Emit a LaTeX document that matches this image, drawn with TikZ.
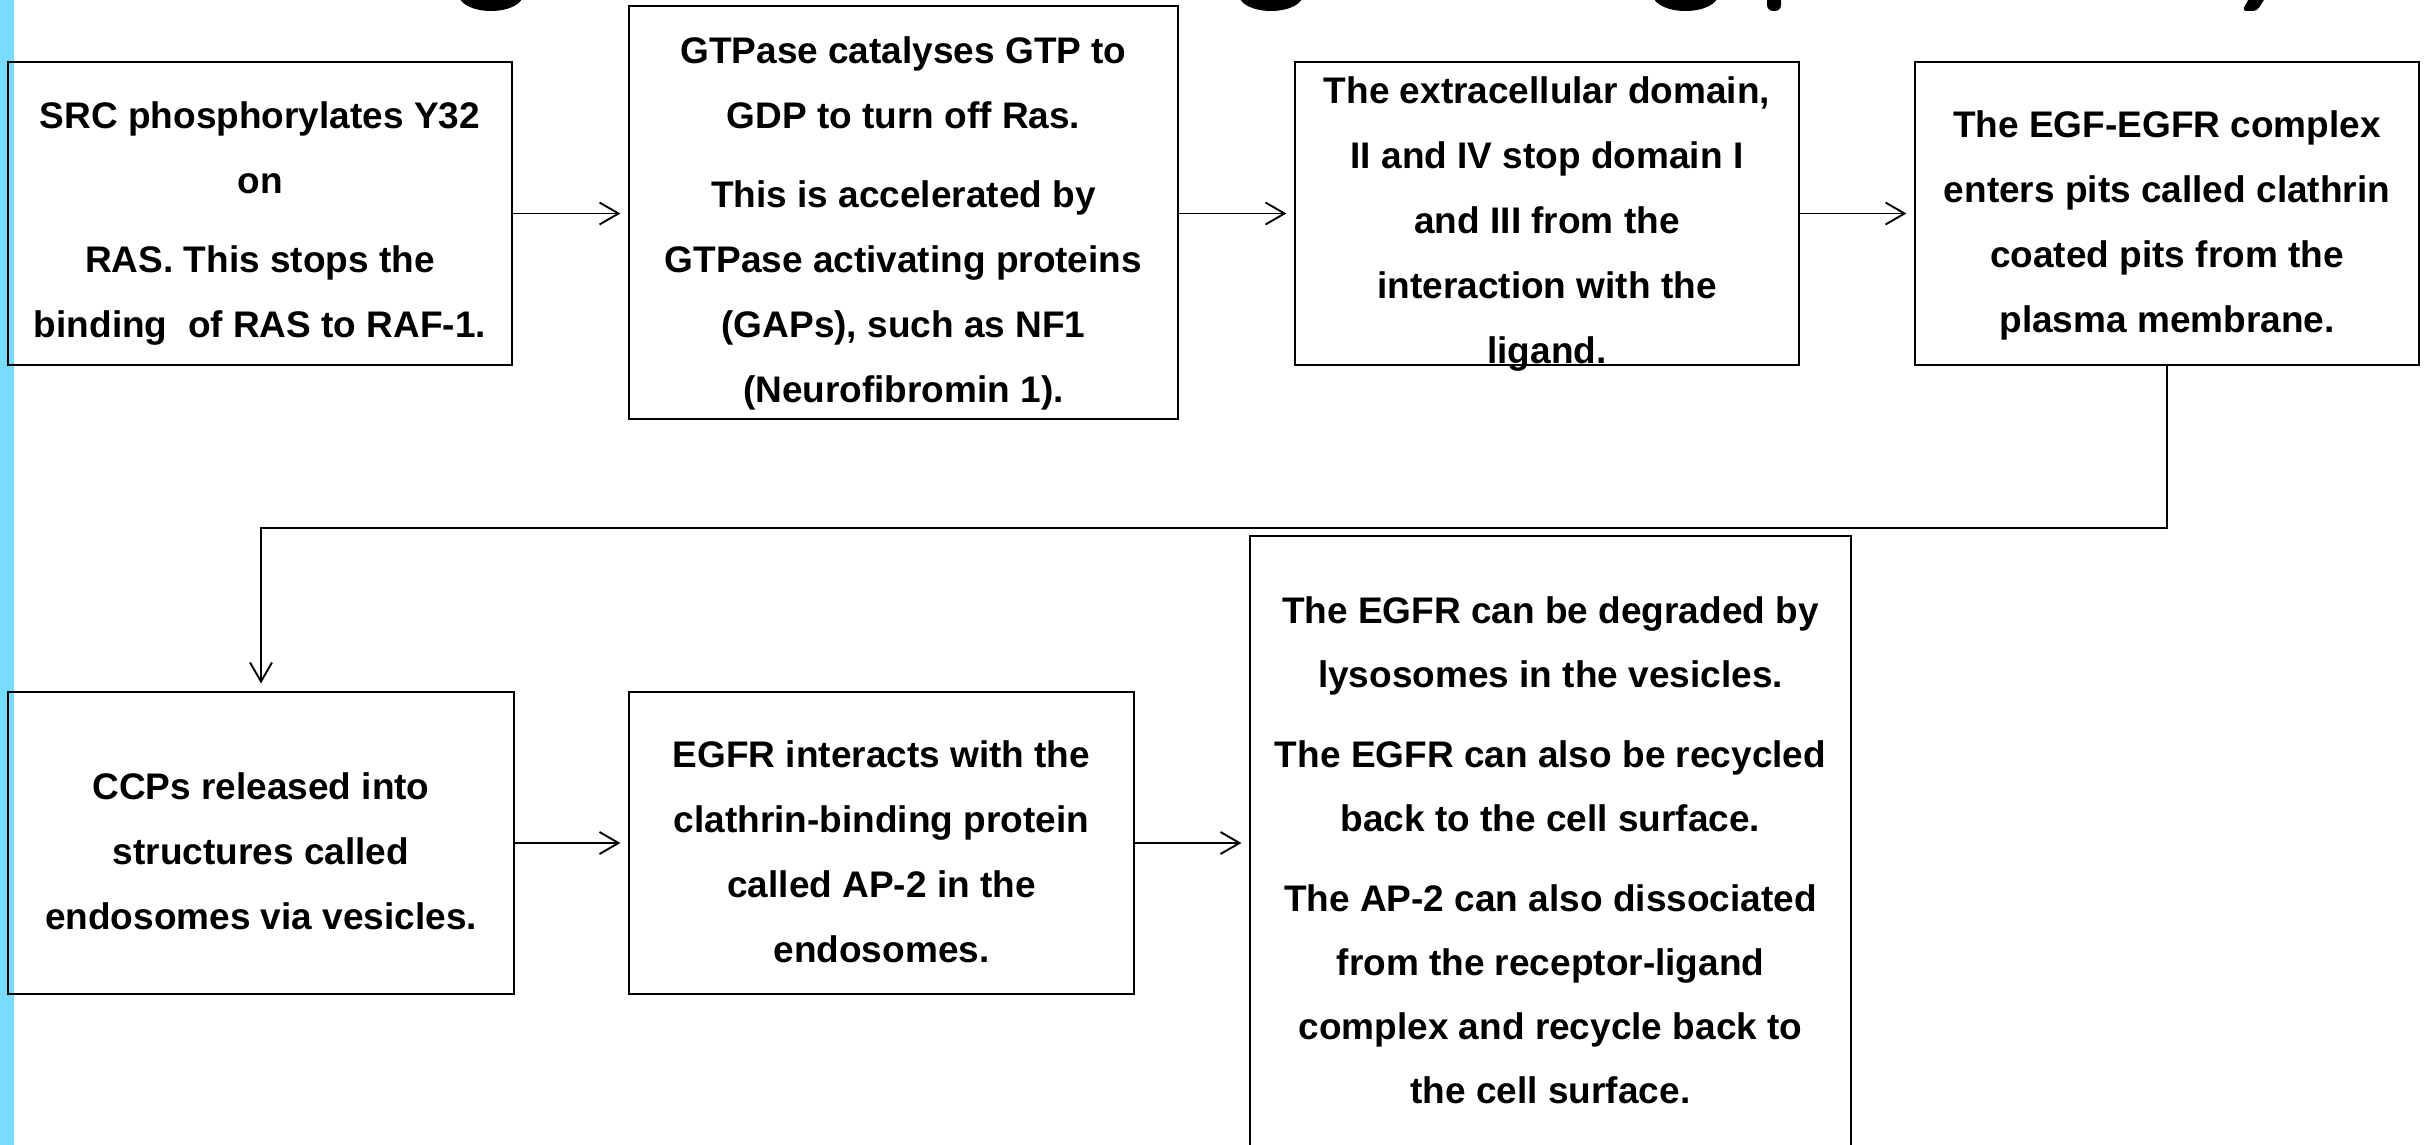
\documentclass[tikz,border=0pt]{standalone}
\usepackage{fontspec}
\setmainfont{Liberation Sans}
\usetikzlibrary{arrows.meta}
\definecolor{stripblue}{RGB}{120,220,255}
\begin{document}
\begin{tikzpicture}[x=1pt,y=-1pt,
  box/.style={draw=black,line width=2.2pt,rectangle,inner sep=0pt},
  txt/.style={anchor=north,inner sep=0pt,align=center,
    font=\fontsize{37}{65}\selectfont\bfseries},
  txtb/.style={txt,font=\fontsize{37}{64}\selectfont\bfseries},
  conn/.style={line width=1.9pt,-{Straight Barb[length=19pt,width=22pt,line width=1.9pt]},shorten >=7.5pt}]
\useasboundingbox (0,0) rectangle (2428,1145);
\clip (0,0) rectangle (2428,1145);
\fill[white] (0,0) rectangle (2428,1145);
\fill[stripblue] (0,0) rectangle (14,1145);
% fragments of the cut-off title
\fill (491,-5) ellipse [x radius=32, y radius=16];
\fill (1271,-5) ellipse [x radius=32, y radius=16];
\fill (1685.5,-5) ellipse [x radius=32.5, y radius=16];
\fill[rounded corners=6pt] (1767,-10) rectangle (1781,11);
\fill[rounded corners=4pt] (2251,-5) -- (2267,-5) -- (2257,11) -- (2242,11) -- cycle;
% boxes
\node[box,minimum width=504pt,minimum height=303pt] (b1) at (260,213.5) {};
\node[box,minimum width=549pt,minimum height=413pt] (b2) at (903.5,212.5) {};
\node[box,minimum width=504pt,minimum height=303pt] (b3) at (1547,213.5) {};
\node[box,minimum width=504pt,minimum height=303pt] (b4) at (2167,213.5) {};
\node[box,minimum width=506pt,minimum height=302pt] (b5) at (261,843) {};
\node[box,minimum width=505pt,minimum height=302pt] (b6) at (881.5,843) {};
\node[box,minimum width=601pt,minimum height=629pt] (b7) at (1550.5,850.5) {};
% texts (first baseline minus 30)
\node[txt] (t1) at (260,98) {\rule{0pt}{30pt}SRC phosphorylates Y32\\ on\\[14pt] RAS. This stops the\\ binding\ \ of RAS to RAF-1.};
\node[txt] (t2) at (903.5,33) {\rule{0pt}{30pt}GTPase catalyses GTP to\\ GDP to turn off Ras.\\[14pt] This is accelerated by\\ GTPase activating proteins\\ (GAPs), such as NF1\\ (Neurofibromin 1).};
\node[txt] (t3) at (1547,73) {\rule{0pt}{30pt}The extracellular domain,\\ II and IV stop domain I\\ and III from the\\ interaction with the\\ ligand.};
\node[txt] (t4) at (2167,107) {\rule{0pt}{30pt}The EGF-EGFR complex\\ enters pits called clathrin\\ coated pits from the\\ plasma membrane.};
\node[txt] (t5) at (261,769) {\rule{0pt}{30pt}CCPs released into\\ structures called\\ endosomes via vesicles.};
\node[txt] (t6) at (881.5,737) {\rule{0pt}{30pt}EGFR interacts with the\\ clathrin-binding protein\\ called AP-2 in the\\ endosomes.};
\node[txtb] (t7) at (1550.5,593.5) {\rule{0pt}{30pt}The EGFR can be degraded by\\ lysosomes in the vesicles.\\[16pt] The EGFR can also be recycled\\ back to the cell surface.\\[16pt] The AP-2 can also dissociated\\ from the receptor-ligand\\ complex and recycle back to\\ the cell surface.};
% connectors
\coordinate (turn) at (2167,528);
\draw[conn] (b1.east) -- (b1.east -| b2.west);
\draw[conn] (b2.east |- b1.east) -- (b1.east -| b3.west);
\draw[conn] (b3.east) -- (b3.east -| b4.west);
\draw[conn] (b4.south) -- (b4.south |- turn) -| (b5.north);
\draw[conn] (b5.east) -- (b5.east -| b6.west);
\draw[conn] (b6.east) -- (b6.east -| b7.west);
\end{tikzpicture}
\end{document}
